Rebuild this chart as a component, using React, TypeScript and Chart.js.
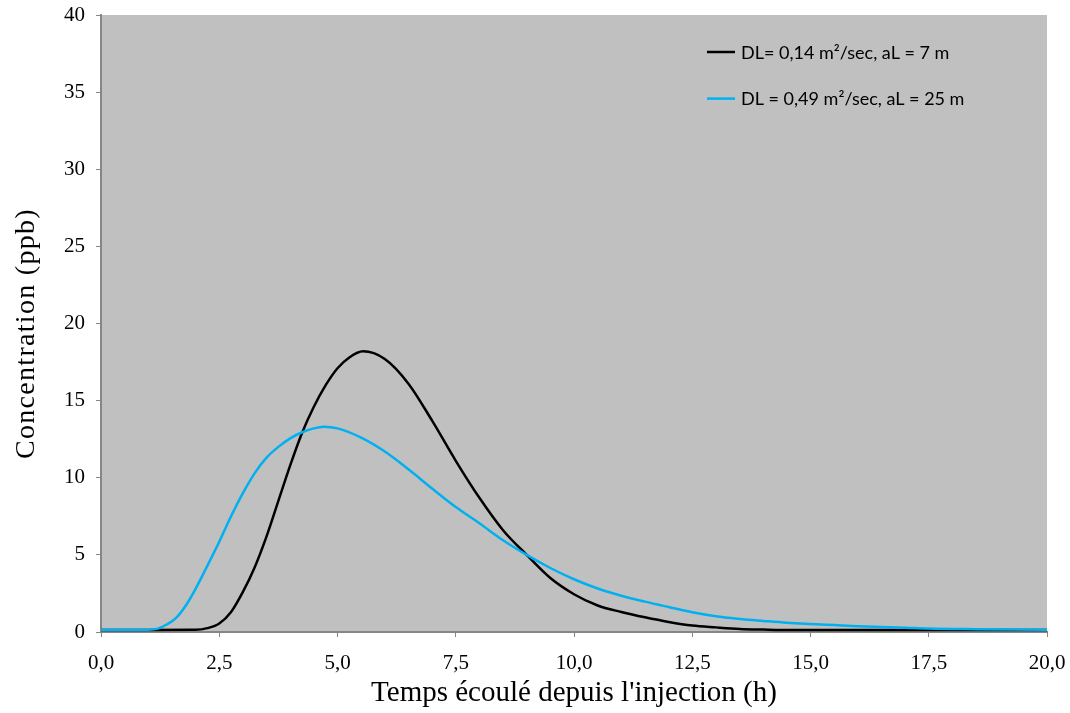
import React, { useEffect, useRef } from "react";
import { Chart, registerables } from "chart.js";

Chart.register(...registerables);

// Series 1: DL = 0,14 m²/sec, aL = 7 m (black)
const blackTimes = [0, 1.0, 2.0, 2.25, 2.5, 2.75, 3.0, 3.25, 3.5, 3.75, 4.0, 4.25, 4.5, 4.75, 5.0, 5.25, 5.54, 6.0, 6.5, 7.0, 7.5, 8.0, 8.5, 9.0, 9.5, 10.0, 10.5, 11.0, 11.5, 12.0, 12.5, 13.0, 13.5, 14.0, 14.6, 17.5, 20];
const blackValues = [0.13, 0.13, 0.14, 0.25, 0.55, 1.3, 2.6, 4.2, 6.2, 8.5, 10.8, 12.9, 14.6, 16.0, 17.1, 17.8, 18.2, 17.7, 16.1, 13.7, 11.1, 8.7, 6.6, 5.0, 3.5, 2.45, 1.72, 1.3, 0.95, 0.65, 0.42, 0.3, 0.2, 0.16, 0.13, 0.13, 0.13];

// Series 2: DL = 0,49 m²/sec, aL = 25 m (blue)
const blueTimes = [0, 1.0, 1.2, 1.4, 1.6, 1.8, 2.0, 2.25, 2.5, 2.75, 3.0, 3.25, 3.5, 3.75, 4.0, 4.25, 4.5, 4.71, 5.0, 5.5, 6.0, 6.5, 7.0, 7.5, 8.0, 8.5, 9.0, 9.5, 10.0, 10.5, 11.0, 11.5, 12.0, 12.5, 13.0, 13.5, 14.0, 14.5, 15.0, 15.5, 16.0, 16.5, 17.0, 17.5, 18.5, 19.3, 20];
const blueValues = [0.15, 0.15, 0.22, 0.5, 0.95, 1.75, 2.8, 4.3, 5.85, 7.5, 9.0, 10.3, 11.3, 12.0, 12.55, 12.95, 13.2, 13.3, 13.2, 12.6, 11.7, 10.55, 9.3, 8.1, 7.05, 5.95, 5.0, 4.15, 3.42, 2.82, 2.35, 1.97, 1.62, 1.28, 1.02, 0.85, 0.72, 0.6, 0.52, 0.45, 0.38, 0.33, 0.28, 0.22, 0.18, 0.16, 0.15];

const seriesLabels = ["DL= 0,14 m²/sec, aL = 7 m", "DL = 0,49 m²/sec, aL = 25 m"];
const seriesColors = ["#000000", "#00B0F0"];

const xTickValues = [0, 2.5, 5, 7.5, 10, 12.5, 15, 17.5, 20];
const yTickValues = [0, 5, 10, 15, 20, 25, 30, 35, 40];

const xTitle = "Temps écoulé depuis l'injection (h)";
const yTitle = "Concentration (ppb)";

const SERIF = "'Liberation Serif', 'Times New Roman', serif";

const plotBackground = {
  id: "plotBackground",
  beforeDraw(chart: any) {
    const { ctx, chartArea } = chart;
    ctx.save();
    ctx.fillStyle = "#C0C0C0";
    ctx.fillRect(chartArea.left, chartArea.top, chartArea.right - chartArea.left, chartArea.bottom - chartArea.top);
    ctx.restore();
  },
};

const insideLegend = {
  id: "insideLegend",
  afterDatasetsDraw(chart: any) {
    const { ctx, chartArea } = chart;
    ctx.save();
    ctx.font = "18px Lato, 'Open Sans', sans-serif";
    ctx.textBaseline = "middle";
    ctx.textAlign = "left";
    chart.data.datasets.forEach((ds: any, i: number) => {
      const y = chartArea.top + 37 + i * 46.6;
      const x0 = chartArea.left + 606;
      ctx.strokeStyle = ds.borderColor;
      ctx.lineWidth = 2.5;
      ctx.beginPath();
      ctx.moveTo(x0, y);
      ctx.lineTo(x0 + 28, y);
      ctx.stroke();
      ctx.fillStyle = "#000000";
      ctx.fillText(ds.label, x0 + 34, y + 1);
    });
    ctx.restore();
  },
};

// y-axis title drawn with a little letter spacing, like the reference
const yAxisTitle = {
  id: "yAxisTitle",
  afterDraw(chart: any) {
    const { ctx, chartArea } = chart;
    ctx.save();
    ctx.translate(27, (chartArea.top + chartArea.bottom) / 2 + 10);
    ctx.rotate(-Math.PI / 2);
    ctx.font = "28px " + SERIF;
    (ctx as any).letterSpacing = "1.3px";
    ctx.fillStyle = "#000000";
    ctx.textAlign = "center";
    ctx.textBaseline = "middle";
    ctx.fillText(yTitle, 0, 0);
    ctx.restore();
  },
};

const fmt = (v: number) => v.toFixed(1).replace(".", ",");

export default function App() {
  const ref = useRef<HTMLCanvasElement | null>(null);

  useEffect(() => {
    if (!ref.current) return;
    const chart = new Chart(ref.current, {
      type: "line",
      data: {
        datasets: [
          {
            label: seriesLabels[0],
            data: blackTimes.map((t, i) => ({ x: t, y: blackValues[i] })),
            borderColor: seriesColors[0],
            backgroundColor: seriesColors[0],
            borderWidth: 2.5,
            pointRadius: 0,
            cubicInterpolationMode: "monotone",
            fill: false,
            order: 1,
          },
          {
            label: seriesLabels[1],
            data: blueTimes.map((t, i) => ({ x: t, y: blueValues[i] })),
            borderColor: seriesColors[1],
            backgroundColor: seriesColors[1],
            borderWidth: 2.5,
            pointRadius: 0,
            cubicInterpolationMode: "monotone",
            fill: false,
            order: 0,
          },
        ],
      },
      options: {
        responsive: false,
        animation: false,
        layout: { padding: { top: 15, right: 23, left: 0, bottom: 0 } },
        plugins: {
          legend: { display: false },
          tooltip: { enabled: false },
        },
        scales: {
          x: {
            type: "linear",
            min: 0,
            max: 20,
            afterBuildTicks: (scale: any) => {
              scale.ticks = xTickValues.map((v) => ({ value: v }));
            },
            afterFit: (scale: any) => {
              scale.height = 81;
              scale.paddingLeft = 0;
              scale.paddingRight = 0;
            },
            ticks: {
              autoSkip: false,
              maxRotation: 0,
              padding: 14,
              color: "#000000",
              font: { family: SERIF, size: 21 },
              callback: (v: any) => fmt(Number(v)),
            },
            grid: {
              display: true,
              drawOnChartArea: false,
              drawTicks: true,
              tickLength: 5,
              color: "#868686",
              lineWidth: 1,
            },
            border: { display: true, color: "#868686", width: 2 },
            title: {
              display: true,
              text: xTitle,
              color: "#000000",
              font: { family: SERIF, size: 29 },
              padding: { top: 0, bottom: 2 },
            },
          },
          y: {
            type: "linear",
            min: 0,
            max: 40,
            afterBuildTicks: (scale: any) => {
              scale.ticks = yTickValues.map((v) => ({ value: v }));
            },
            afterFit: (scale: any) => {
              scale.width = 101;
              scale.paddingTop = 0;
              scale.paddingBottom = 0;
            },
            ticks: {
              autoSkip: false,
              padding: 11,
              color: "#000000",
              font: { family: SERIF, size: 21 },
              callback: (v: any) => String(v),
            },
            grid: {
              display: true,
              drawOnChartArea: false,
              drawTicks: true,
              tickLength: 5,
              color: "#868686",
              lineWidth: 1,
            },
            border: { display: true, color: "#868686", width: 2 },
            title: { display: false, text: yTitle },
          },
        },
      },
      plugins: [plotBackground, insideLegend, yAxisTitle],
    });
    return () => chart.destroy();
  }, []);

  return (
    <div style={{ position: "absolute", left: 0, top: 0, width: 1070, height: 713, background: "#FFFFFF" }}>
      <canvas ref={ref} width={1070} height={713} style={{ display: "block" }} />
    </div>
  );
}
